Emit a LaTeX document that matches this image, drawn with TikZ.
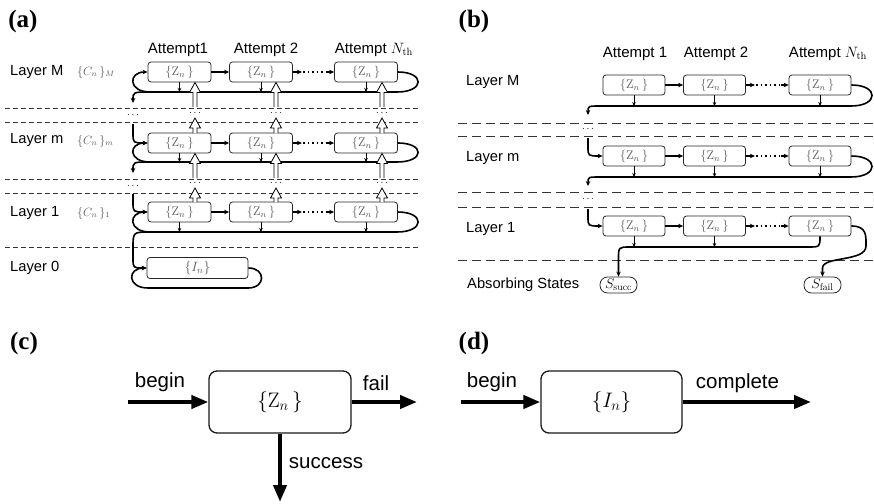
\documentclass[tikz,border=0pt]{standalone}
\usepackage{fix-cm}
\usepackage{fontspec}
\setsansfont{Liberation Sans}
\newfontfamily\panelfont{Liberation Serif}
\usetikzlibrary{arrows.meta}
\newcommand\hollowup[3]{%
  \draw[line width=0.8pt, fill=white, line join=miter] (#1-2,#2) -- (#1-2,#3+10) -- (#1-5.5,#3+10) -- (#1,#3) -- (#1+5.5,#3+10) -- (#1+2,#3+10) -- (#1+2,#2);}
\begin{document}
\begin{tikzpicture}[x=1pt,y=-1pt,
  lab/.style={font=\sffamily\fontsize{14.7}{17}\selectfont, anchor=west, inner sep=0},
  att/.style={font=\sffamily\fontsize{15}{17}\selectfont, inner sep=0},
  big/.style={font=\sffamily\fontsize{20.5}{23}\selectfont, inner sep=0},
  panel/.style={font=\panelfont\bfseries\fontsize{25}{28}\selectfont, inner sep=0},
  cl/.style={font=\fontsize{12}{13}\selectfont, text=black!65, anchor=west, inner sep=0},
  zbox/.style={draw=black!85, line width=0.8pt, rounded corners=3pt, minimum width=63pt, minimum height=20pt, inner sep=0, text=black!65, font=\fontsize{12.5}{13}\selectfont},
  sbox/.style={draw=black!85, line width=0.8pt, rounded corners=7.5pt, minimum width=37pt, minimum height=16pt, inner sep=0, font=\fontsize{14}{14}\selectfont},
  bigbox/.style={draw=black!90, line width=1.3pt, rounded corners=8pt, minimum width=142pt, minimum height=62pt, inner sep=0, font=\fontsize{21}{22}\selectfont},
  thickl/.style={line width=1.6pt},
  thinarr/.style={line width=0.7pt, -{Stealth[length=4pt,width=3.5pt]}},
  tharr/.style={line width=1.6pt, -{Stealth[length=5pt,width=4.5pt]}},
  dotpart/.style={line width=1.3pt, dash pattern=on 1.5pt off 3pt},
  bigarr/.style={line width=4pt, -{Triangle[length=17pt,width=13pt]}},
  dsha/.style={dash pattern=on 5pt off 3pt, line width=0.7pt, black!80},
  dshb/.style={dash pattern=on 9pt off 5pt, line width=0.8pt, black!80},
  dotsn/.style={font=\fontsize{10}{10}\selectfont, inner sep=0}
]
\useasboundingbox (0,0) rectangle (874,503);

% ---------------- panel labels
\node[panel] (pa) at (23,21) {(a)};
\node[panel] (pb) at (474,21) {(b)};
\node[panel] (pc) at (24,343) {(c)};
\node[panel] (pd) at (474,343) {(d)};

% ---------------- (a)
\node[att] (aA1) at (178,50) {Attempt1};
\node[att] (aA2) at (266,50) {Attempt 2};
\node[att] (aA3) at (374,50) {Attempt $N_{\mathrm{th}}$};
\node[lab] (aLM) at (10,72) {Layer M};
\node[lab] (aLm) at (10,140) {Layer m};
\node[lab] (aL1) at (10,213) {Layer 1};
\node[lab] (aL0) at (10,268) {Layer 0};
\node[cl] (aCM) at (77,72) {$\{C_n\,\}_M$};
\node[cl] (aCm) at (77,141) {$\{C_n\,\}_m$};
\node[cl] (aC1) at (77,213) {$\{C_n\,\}_1$};

\foreach \y in {108,122,179,193,247}{\draw[dsha] (5,\y) -- (418,\y);}

\foreach \r/\yc/\yl in {M/72/92,m/143/162,o/212/232}{
  \node[zbox] (a\r1) at (179.5,\yc) {$\{\mathrm{Z}_n\,\}$};
  \node[zbox] (a\r2) at (261,\yc) {$\{\mathrm{Z}_n\,\}$};
  \node[zbox] (a\r3) at (366,\yc) {$\{\mathrm{Z}_n\,\}$};
  \draw[tharr] (a\r1) -- (a\r2);
  \draw[tharr] (a\r2.east) -- ++(9,0);
  \draw[dotpart] (303,\yc) -- (327,\yc);
  \draw[tharr] (327,\yc) -- (a\r3.west);
  \draw[thickl] (a\r3.east) .. controls (425,\yc) and (425,\yl) .. (397,\yl) -- (150,\yl);
  \draw[tharr] (150,\yl) .. controls (128,\yl) and (128,\yc) .. (a\r1.west);
  \draw[thinarr] (a\r1.south) -- (179.5,\yl);
  \draw[thinarr] (a\r2.south) -- (261,\yl);
  \draw[thinarr] (a\r3.south) -- (366,\yl);
}
\node[zbox, minimum width=101pt, minimum height=21pt, font=\fontsize{13.5}{14}\selectfont] (a0) at (197.5,268) {$\{I_n\}$};

% left branches
\draw[tharr] (150,92) .. controls (133,92) .. (133,103);
\draw[tharr] (150,162) .. controls (133,162) .. (133,173);
\node[dotsn] (adl1) at (133,115) {$\cdots$};
\node[dotsn] (adl2) at (133,186) {$\cdots$};
\draw[tharr] (133,124) -- (133,133) .. controls (133,143) .. (am1.west);
\draw[tharr] (133,194) -- (133,202) .. controls (133,212) .. (ao1.west);
\draw[tharr] (150,232) .. controls (133,232) .. (133,248) -- (133,258) .. controls (133,268) .. (a0.west);
\draw[tharr] (a0.east) .. controls (266,268) and (266,288) .. (248,288) -- (148,288) .. controls (127,288) and (127,268) .. (a0.west);

% hollow arrows and dots
\foreach \x in {195,276,382}{
  \hollowup{\x}{107}{82.5}
  \hollowup{\x}{133}{118}
  \hollowup{\x}{178}{153.5}
  \hollowup{\x}{202}{188}
  \node[dotsn] at (\x,113) {$\cdots$};
  \node[dotsn] at (\x,183) {$\cdots$};
}

% ---------------- (b)
\node[att] (bA1) at (635,54) {Attempt 1};
\node[att] (bA2) at (716,54) {Attempt 2};
\node[att] (bA3) at (828,54) {Attempt $N_{\mathrm{th}}$};
\node[lab] (bLM) at (466,82) {Layer M};
\node[lab] (bLm) at (466,158) {Layer m};
\node[lab] (bL1) at (466,229) {Layer 1};
\node[lab] (bLA) at (467,285) {Absorbing States};

\foreach \y in {123,136,192,207,260}{\draw[dshb] (458,\y) -- (874,\y);}

\foreach \r/\yc/\yl in {M/85/106,m/156/177,o/226/247}{
  \node[zbox, minimum width=62pt] (b\r1) at (634,\yc) {$\{\mathrm{Z}_n\,\}$};
  \node[zbox, minimum width=62pt] (b\r2) at (714.5,\yc) {$\{\mathrm{Z}_n\,\}$};
  \node[zbox, minimum width=62pt] (b\r3) at (820,\yc) {$\{\mathrm{Z}_n\,\}$};
  \draw[tharr] (b\r1) -- (b\r2);
  \draw[tharr] (b\r2.east) -- ++(9,0);
  \draw[dotpart] (756,\yc) -- (781,\yc);
  \draw[tharr] (781,\yc) -- (b\r3.west);
  \draw[thinarr] (b\r1.south) -- (634,\yl);
  \draw[thinarr] (b\r2.south) -- (714.5,\yl);
}
\foreach \r/\yc/\yl in {M/85/106,m/156/177}{
  \draw[thinarr] (b\r3.south) -- (820,\yl);
  \draw[tharr] (b\r3.east) .. controls (879,\yc) and (879,\yl) .. (851,\yl) -- (600,\yl) .. controls (588,\yl) .. (588,\yl+9);
}
\node[dotsn] (bdl1) at (588,129) {$\cdots$};
\node[dotsn] (bdl2) at (588,199) {$\cdots$};
\draw[tharr] (588,138) -- (588,147) .. controls (588,156) .. (bm1.west);
\draw[tharr] (588,209) -- (588,217) .. controls (588,226) .. (bo1.west);

\node[sbox] (Ss) at (618.5,285) {$S_{\mathrm{succ}}$};
\node[sbox] (Sf) at (822.5,285) {$S_{\mathrm{fail}}$};
\draw[tharr] (bo3.south) .. controls (820,247) .. (808,247) -- (630,247) .. controls (618.5,247) .. (618.5,259) -- (Ss.north);
\draw[tharr] (bo3.east) .. controls (867,226) and (866,236) .. (866,246) .. controls (866,262) and (822.5,256) .. (822.5,268) -- (Sf.north);

% ---------------- (c)
\node[bigbox] (Zc) at (280,402) {$\{\mathrm{Z}_n\,\}$};
\coordinate (cin) at (128,402);
\coordinate (cout) at (417,402);
\coordinate (cdown) at (280,502);
\draw[bigarr] (cin) -- (Zc.west);
\draw[bigarr] (Zc.east) -- (cout);
\draw[bigarr] (Zc.south) -- (cdown);
\node[big] (cbeg) at (160,382) {begin};
\node[big] (cfail) at (376,383) {fail};
\node[big] (csucc) at (326,463) {success};

% ---------------- (d)
\node[bigbox, minimum width=141pt] (Id) at (611.5,402) {$\{I_n\}$};
\coordinate (din) at (461,402);
\coordinate (dout) at (811,402);
\draw[bigarr] (din) -- (Id.west);
\draw[bigarr] (Id.east) -- (dout);
\node[big] (dbeg) at (492,382) {begin};
\node[big] (dcomp) at (737.5,383) {complete};
\end{tikzpicture}
\end{document}
